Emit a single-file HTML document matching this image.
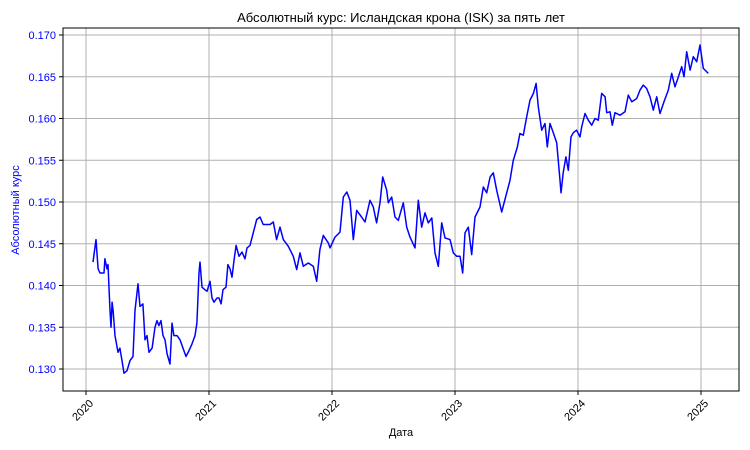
<!DOCTYPE html>
<html><head><meta charset="utf-8"><style>
body{margin:0;background:#fff}
svg{display:block;font-family:"Liberation Sans","DejaVu Sans",sans-serif}
</style></head><body>
<svg id="chart" width="750" height="450">
<rect width="750" height="450" fill="#fff"/>
<text x="401" y="22" text-anchor="middle" font-size="13">Абсолютный курс: Исландская крона (ISK) за пять лет</text>
<g id="grid"></g>
<g id="yticks"></g>
<g id="xticks"></g>
<path id="line" fill="none" stroke="#0000ff" stroke-width="1.5" stroke-linejoin="round"/>
<rect x="63" y="28" width="676" height="363" fill="none" stroke="#000" stroke-width="1"/>
<text x="401" y="436" text-anchor="middle" font-size="11">Дата</text>
<text x="19" y="210" text-anchor="middle" font-size="11" fill="#0000ff" transform="rotate(-90 19 210)">Абсолютный курс</text>
</svg>
<script>
const years=[2020.057,2020.081,2020.098,2020.114,2020.146,2020.154,2020.171,2020.179,2020.195,2020.203,2020.212,2020.220,2020.236,2020.260,2020.276,2020.293,2020.309,2020.333,2020.358,2020.382,2020.398,2020.423,2020.439,2020.463,2020.480,2020.496,2020.512,2020.537,2020.561,2020.577,2020.593,2020.610,2020.626,2020.642,2020.659,2020.683,2020.699,2020.715,2020.740,2020.764,2020.789,2020.813,2020.837,2020.862,2020.886,2020.902,2020.919,2020.927,2020.943,2020.967,2020.984,2021.008,2021.024,2021.041,2021.065,2021.081,2021.098,2021.114,2021.138,2021.154,2021.171,2021.187,2021.203,2021.220,2021.244,2021.268,2021.293,2021.309,2021.333,
2021.388,2021.415,2021.441,2021.496,2021.523,2021.550,2021.577,2021.604,2021.645,2021.685,2021.713,2021.740,2021.767,2021.807,2021.848,2021.876,2021.902,2021.929,2021.970,2021.984,2022.024,2022.065,2022.092,2022.120,2022.146,2022.173,2022.201,2022.241,2022.268,2022.309,2022.336,2022.363,2022.390,2022.412,2022.445,2022.458,2022.485,2022.512,2022.539,2022.580,2022.607,2022.634,2022.675,2022.702,2022.729,2022.756,2022.783,2022.811,2022.837,2022.864,2022.892,2022.919,2022.959,2022.986,2023.014,
2023.041,2023.063,2023.081,2023.108,2023.136,2023.163,2023.203,2023.230,2023.258,2023.285,2023.311,2023.339,2023.380,2023.420,2023.447,2023.474,2023.507,2023.528,2023.555,2023.583,2023.610,2023.637,2023.659,2023.677,2023.705,2023.732,2023.750,2023.772,2023.799,2023.827,2023.854,2023.862,2023.880,2023.902,2023.921,2023.943,2023.962,2023.989,2024.016,2024.030,2024.057,2024.084,2024.111,2024.138,2024.165,2024.193,2024.220,2024.233,2024.260,2024.279,2024.301,2024.341,2024.382,2024.409,2024.437,2024.477,2024.504,2024.531,2024.558,2024.585,2024.612,2024.640,2024.667,2024.699,2024.734,2024.762,2024.789,2024.816,2024.843,2024.862,2024.884,2024.911,2024.937,2024.965,2024.992,2025.019,2025.059];
const rates=[0.1428,0.1455,0.1420,0.1415,0.1415,0.1432,0.1420,0.1425,0.1370,0.1350,0.1380,0.1370,0.1340,0.1320,0.1325,0.1310,0.1295,0.1298,0.1310,0.1315,0.1370,0.1402,0.1375,0.1378,0.1335,0.1340,0.1320,0.1325,0.1350,0.1358,0.1352,0.1358,0.1340,0.1335,0.1318,0.1306,0.1355,0.1340,0.1340,0.1335,0.1325,0.1315,0.1322,0.1330,0.1340,0.1355,0.1415,0.1428,0.1398,0.1395,0.1393,0.1405,0.1385,0.1380,0.1385,0.1385,0.1378,0.1395,0.1398,0.1425,0.1420,0.1410,0.1430,0.1448,0.1435,0.1440,0.1432,0.1445,0.1448,
0.1479,0.1482,0.1473,0.1473,0.1476,0.1455,0.1470,0.1455,0.1447,0.1435,0.1419,0.1439,0.1423,0.1427,0.1423,0.1405,0.1443,0.1460,0.1451,0.1445,0.1458,0.1464,0.1506,0.1512,0.1502,0.1455,0.1490,0.1482,0.1476,0.1502,0.1494,0.1475,0.1499,0.1530,0.1514,0.1499,0.1506,0.1482,0.1478,0.1499,0.1470,0.1458,0.1445,0.1502,0.1470,0.1487,0.1475,0.1481,0.1439,0.1423,0.1475,0.1457,0.1455,0.1439,0.1435,
0.1435,0.1415,0.1463,0.1470,0.1437,0.1482,0.1494,0.1518,0.1511,0.1530,0.1535,0.1514,0.1488,0.1511,0.1526,0.1550,0.1566,0.1582,0.1580,0.1602,0.1622,0.1630,0.1642,0.1614,0.1586,0.1594,0.1566,0.1594,0.1583,0.1571,0.1526,0.1511,0.1535,0.1554,0.1538,0.1578,0.1583,0.1586,0.1578,0.1590,0.1606,0.1598,0.1592,0.1600,0.1598,0.1630,0.1626,0.1607,0.1608,0.1592,0.1607,0.1604,0.1608,0.1628,0.1620,0.1624,0.1634,0.1640,0.1636,0.1626,0.1610,0.1626,0.1606,0.1620,0.1634,0.1654,0.1638,0.1650,0.1662,0.1650,0.1680,0.1658,0.1674,0.1668,0.1688,0.1660,0.1654];
const yTickVals=[0.130,0.135,0.140,0.145,0.150,0.155,0.160,0.165,0.170];
const xTickYears=[2020,2021,2022,2023,2024,2025];
const xTickLabels=["2020","2021","2022","2023","2024","2025"];

const NS="http://www.w3.org/2000/svg";
function xs(y){return 86+(y-2020)*123;}
function ys(v){return 369-(v-0.13)/0.005*41.75;}
function mk(tag,attrs,parent){const e=document.createElementNS(NS,tag);for(const k in attrs)e.setAttribute(k,attrs[k]);parent.appendChild(e);return e;}
const grid=document.getElementById('grid'),yt=document.getElementById('yticks'),xt=document.getElementById('xticks');
yTickVals.forEach(v=>{
  const y=ys(v);
  const g=mk('line',{x1:63,x2:739,y1:y,y2:y,stroke:'#b0b0b0','stroke-width':1},grid);
  
  
  const t=mk('line',{x1:59,x2:63,y1:y,y2:y,stroke:'#000'},yt);
  
  
  const l=mk('text',{x:56,y:y+4,'text-anchor':'end','font-size':11,fill:'#0000ff'},yt);
  l.textContent=v.toFixed(3);
  
  
});
xTickYears.forEach((yr,i)=>{
  const x=xs(yr);
  const g=mk('line',{x1:x,x2:x,y1:28,y2:391,stroke:'#b0b0b0','stroke-width':1},grid);
  
  
  const t=mk('line',{x1:x,x2:x,y1:391,y2:395,stroke:'#000'},xt);
  
  
  const l=mk('text',{x:x+8,y:404,'text-anchor':'end','font-size':11,transform:`rotate(-45 ${x+8} 404)`},xt);
  l.textContent=xTickLabels[i];
  
  
});
let d='';
years.forEach((yr,i)=>{d+=(i?'L':'M')+xs(yr).toFixed(1)+','+ys(rates[i]).toFixed(1);});
document.getElementById('line').setAttribute('d',d);
</script>
</body></html>
